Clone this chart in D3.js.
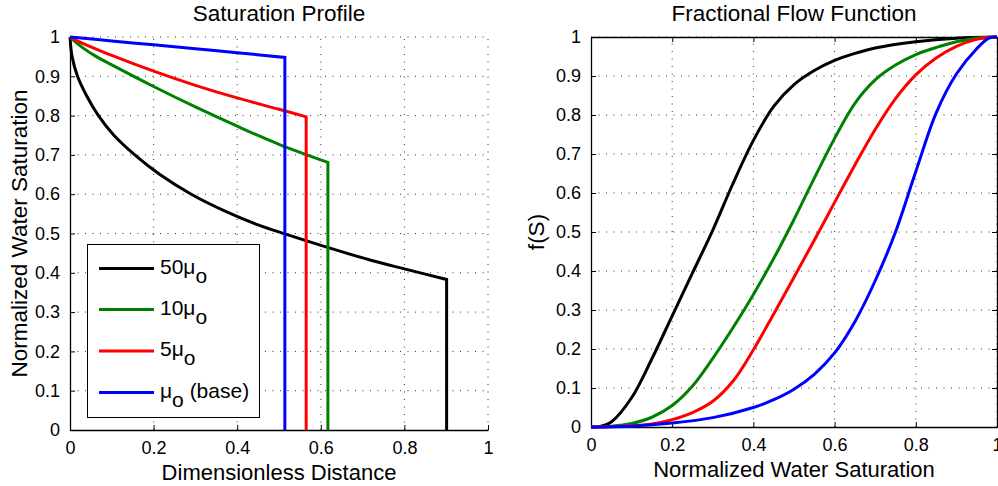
<!DOCTYPE html>
<html><head><meta charset="utf-8">
<script src="https://cdn.jsdelivr.net/npm/d3@7"></script>
<style>
body{margin:0;background:#fff;}
text{font-family:"Liberation Sans",Arial,Helvetica,sans-serif;fill:#000;}
</style></head>
<body><svg id="c" width="998" height="486"></svg>
<script>
// ---------- data ----------
const seriesNames = ["50μo", "10μo", "5μo", "μo (base)"];
const legendMain = ["50μ", "10μ", "5μ", "μ"];
const legendSub = ["o", "o", "o", "o"];
const legendTail = ["", "", "", " (base)"];
const seriesColors = ["#000000", "#008000", "#ff0000", "#0000ff"];

// Saturation profile: rarefaction points [distance, saturation]; last point is the shock front
const profBlack = [[0,1],[0.005,0.95],[0.018,0.9],[0.04,0.85],[0.068,0.8],[0.105,0.75],[0.155,0.7],[0.215,0.65],[0.29,0.6],[0.375,0.555],[0.45,0.522],[0.514,0.499],[0.618,0.464],[0.72,0.432],[0.8,0.41],[0.901,0.383]];
const profGreen = [[0,1],[0.01,0.99],[0.03,0.973],[0.06,0.952],[0.1,0.929],[0.2,0.874],[0.3,0.822],[0.4,0.773],[0.5,0.727],[0.617,0.681]];
const profRed = [[0,1],[0.02,0.989],[0.05,0.975],[0.1,0.953],[0.2,0.913],[0.3,0.877],[0.4,0.845],[0.5,0.816],[0.565,0.797]];
const profBlue = [[0,1],[0.1,0.99],[0.2,0.98],[0.3,0.97],[0.4,0.96],[0.514,0.948]];
const profiles = [profBlack, profGreen, profRed, profBlue];

// Fractional flow [S, f]
const ffBlack = [[0,0],[0.02,0.001],[0.05,0.013],[0.1,0.075],[0.15,0.175],[0.2,0.285],[0.25,0.395],[0.3,0.505],[0.35,0.625],[0.4,0.735],[0.45,0.822],[0.5,0.878],[0.55,0.914],[0.6,0.94],[0.65,0.958],[0.7,0.972],[0.8,0.988],[0.9,0.997],[1,1]];
const ffGreen = [[0,0],[0.05,0.002],[0.1,0.009],[0.15,0.025],[0.2,0.055],[0.25,0.105],[0.3,0.176],[0.35,0.255],[0.4,0.34],[0.45,0.432],[0.5,0.532],[0.55,0.638],[0.6,0.74],[0.65,0.83],[0.7,0.89],[0.75,0.928],[0.8,0.955],[0.85,0.973],[0.9,0.988],[0.95,0.997],[1,1]];
const ffRed = [[0,0],[0.1,0.003],[0.15,0.008],[0.2,0.019],[0.25,0.037],[0.3,0.066],[0.35,0.118],[0.4,0.198],[0.45,0.29],[0.5,0.384],[0.55,0.479],[0.6,0.576],[0.65,0.672],[0.7,0.763],[0.75,0.842],[0.8,0.903],[0.85,0.946],[0.9,0.976],[0.95,0.994],[1,1]];
const ffBlue = [[0,0],[0.1,0.002],[0.2,0.01],[0.3,0.024],[0.4,0.05],[0.45,0.07],[0.5,0.097],[0.55,0.135],[0.6,0.19],[0.65,0.27],[0.7,0.375],[0.75,0.5],[0.8,0.655],[0.85,0.805],[0.9,0.905],[0.95,0.97],[0.98,0.997],[1,1]];
const fracFlows = [ffBlack, ffGreen, ffRed, ffBlue];

const xTicks = [0, 0.2, 0.4, 0.6, 0.8, 1];
const yTicks = [0, 0.1, 0.2, 0.3, 0.4, 0.5, 0.6, 0.7, 0.8, 0.9, 1];
const yTickLabels = ["0","0.1","0.2","0.3","0.4","0.5","0.6","0.7","0.8","0.9","1"];
const xTickLabels = ["0","0.2","0.4","0.6","0.8","1"];

// ---------- drawing ----------
const svg = d3.select("#c");

function panel(opts){
  const x = d3.scaleLinear().domain([0,1]).range([opts.x0, opts.x1]);
  const y = d3.scaleLinear().domain([0,1]).range([opts.y0, opts.y1]);
  const g = svg.append("g");
  g.selectAll(".gx").data(xTicks.filter(d=>d>0)).enter().append("line")
    .attr("x1", d=>x(d)).attr("x2", d=>x(d)).attr("y1", y(0)).attr("y2", y(1))
    .attr("stroke","#333").attr("stroke-width",1).attr("stroke-dasharray","1,6.5");
  g.selectAll(".gy").data(yTicks.filter(d=>d>0)).enter().append("line")
    .attr("y1", d=>y(d)).attr("y2", d=>y(d)).attr("x1", x(0)).attr("x2", x(1))
    .attr("stroke","#333").attr("stroke-width",1).attr("stroke-dasharray","1,6.5");
  const ax = d3.axisBottom(x).tickValues(xTicks).tickFormat((d,i)=>xTickLabels[i]).tickSizeInner(-5).tickSizeOuter(0).tickPadding(8);
  const ay = d3.axisLeft(y).tickValues(yTicks).tickFormat((d,i)=>yTickLabels[i]).tickSizeInner(-5).tickSizeOuter(0).tickPadding(10);
  const gx = g.append("g").attr("transform",`translate(0,${y(0)})`).call(ax);
  const gy = g.append("g").attr("transform",`translate(${x(0)},0)`).call(ay);
  [gx,gy].forEach(a=>{
    a.select(".domain").attr("stroke","#000").attr("stroke-width",1.3);
    a.selectAll(".tick line").attr("stroke","#000").attr("stroke-width",1);
    a.selectAll(".tick text").attr("font-size",18).attr("font-family","Liberation Sans, Arial, sans-serif").attr("fill","#000");
  });
  gx.selectAll(".tick text").attr("dy","0.9em");
  if(opts.box){
    const at = d3.axisTop(x).tickValues(xTicks).tickFormat("").tickSizeInner(-5).tickSizeOuter(0);
    const ar = d3.axisRight(y).tickValues(yTicks).tickFormat("").tickSizeInner(-5).tickSizeOuter(0);
    const gt = g.append("g").attr("transform",`translate(0,${y(1)})`).call(at);
    const gr = g.append("g").attr("transform",`translate(${x(1)},0)`).call(ar);
    [gt,gr].forEach(a=>{
      a.select(".domain").attr("stroke","#000").attr("stroke-width",1.3);
      a.selectAll(".tick line").attr("stroke","#000").attr("stroke-width",1);
    });
  }
  svg.append("text").attr("x",(opts.x0+opts.x1)/2).attr("y",21).attr("text-anchor","middle")
    .attr("font-size",22.5).text(opts.title);
  svg.append("text").attr("x",(opts.x0+opts.x1)/2).attr("y",opts.xlabY).attr("text-anchor","middle")
    .attr("font-size",22).text(opts.xlabel);
  svg.append("text").attr("transform",`translate(${opts.ylabX},${(opts.y0+opts.y1)/2}) rotate(-90)`)
    .attr("text-anchor","middle").attr("font-size",22.5).text(opts.ylabel);
  return {x,y,g};
}

// Left panel
const L = panel({x0:70,x1:488,y0:430,y1:37,box:false,title:"Saturation Profile",
  xlabel:"Dimensionless Distance",ylabel:"Normalized Water Saturation",xlabY:479.5,ylabX:27});
const lineL = d3.line().x(d=>L.x(d[0])).y(d=>L.y(d[1])).curve(d3.curveCatmullRom.alpha(0.5));
profiles.forEach((p,i)=>{
  const last = p[p.length-1];
  L.g.append("path").attr("d", lineL(p) + `L${L.x(last[0])},${L.y(0)}`)
    .attr("fill","none").attr("stroke",seriesColors[i]).attr("stroke-width",3)
    .attr("stroke-linejoin","miter");
});

// Legend
const lg = svg.append("g");
lg.append("rect").attr("x",87.5).attr("y",244.5).attr("width",172).attr("height",173)
  .attr("fill","#fff").attr("stroke","#000").attr("stroke-width",1);
const rowY = [268.5, 309.5, 351, 392.5];
seriesNames.forEach((n,i)=>{
  lg.append("line").attr("x1",99).attr("x2",154).attr("y1",rowY[i]).attr("y2",rowY[i])
    .attr("stroke",seriesColors[i]).attr("stroke-width",3);
  const t = lg.append("text").attr("x",160).attr("y",rowY[i]+5).attr("font-size",21);
  t.append("tspan").text(legendMain[i]);
  t.append("tspan").attr("dy",9).text(legendSub[i]);
  if(legendTail[i]) t.append("tspan").attr("dy",-9).text(legendTail[i]);
});

// Right panel
const R = panel({x0:591,x1:997,y0:427,y1:37,box:true,title:"Fractional Flow Function",
  xlabel:"Normalized Water Saturation",ylabel:"f(S)",xlabY:476.5,ylabX:544});
const lineR = d3.line().x(d=>R.x(d[0])).y(d=>R.y(d[1])).curve(d3.curveCatmullRom.alpha(0.5));
fracFlows.forEach((p,i)=>{
  R.g.append("path").attr("d", lineR(p)).attr("fill","none")
    .attr("stroke",seriesColors[i]).attr("stroke-width",3);
});
</script></body></html>
